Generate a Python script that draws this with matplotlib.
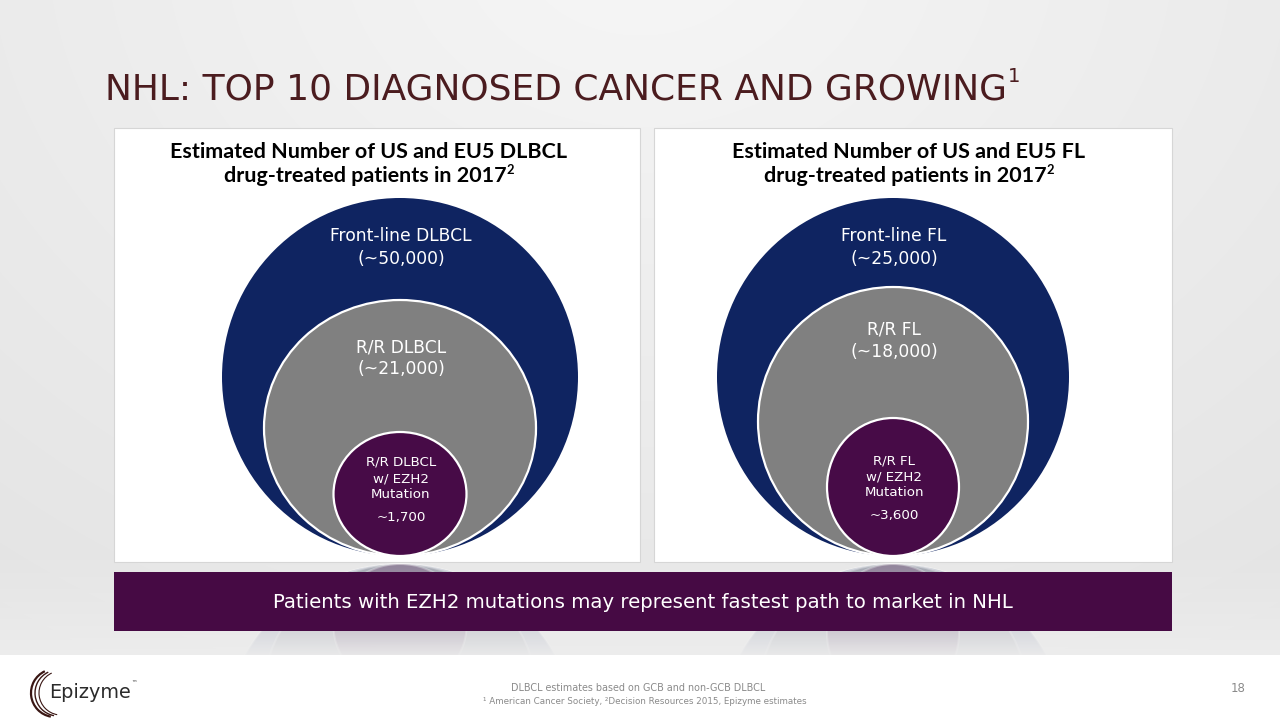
import matplotlib
matplotlib.use("Agg")
import matplotlib.pyplot as plt
from matplotlib.patches import Ellipse, Rectangle, Arc
import numpy as np

# ---------------- data ----------------
title_text = "NHL: TOP 10 DIAGNOSED CANCER AND GROWING"
title_sup = "1"
heading_line1 = ["Estimated Number of US and EU5 DLBCL", "Estimated Number of US and EU5 FL"]
heading_line2 = ["drug-treated patients in 2017", "drug-treated patients in 2017"]
heading_sup = "2"
frontline_labels = ["Front-line DLBCL", "Front-line FL"]
frontline_values = ["(~50,000)", "(~25,000)"]
rr_labels = ["R/R DLBCL", "R/R FL"]
rr_values = ["(~21,000)", "(~18,000)"]
ezh2_labels = [["R/R DLBCL", "w/ EZH2", "Mutation"], ["R/R FL", "w/ EZH2", "Mutation"]]
ezh2_values = ["~1,700", "~3,600"]
banner_text = "Patients with EZH2 mutations may represent fastest path to market in NHL"
footnote_1 = "DLBCL estimates based on GCB and non-GCB DLBCL"
footnote_2 = "\u00b9 American Cancer Society, \u00b2Decision Resources 2015, Epizyme estimates"
page_number = "18"
company = "Epizyme"

# ---------------- layout / style ----------------
W, H = 1280, 720
NAVY = "#0f2461"
GRAY = "#808080"
PURPLE = "#470b47"
BANNER = "#460a44"
TITLE_C = "#4b1c1f"

panels = [
    dict(box=(114, 128, 640, 562), hx=369, cx=400, bottom=556,
         outer=(356, 358), mid=(272, 256), inner=(133, 124),
         ty=[(236, 259), (347, 369), (462, 479, 495, 518)]),
    dict(box=(654, 128, 1172, 562), hx=909, cx=893, bottom=556,
         outer=(352, 358), mid=(270, 269), inner=(132, 138),
         ty=[(236, 259), (330, 352), (461, 477, 493, 516)]),
]

fig = plt.figure(figsize=(12.8, 7.2), dpi=100)
ax = fig.add_axes([0, 0, 1, 1])
ax.set_xlim(0, W)
ax.set_ylim(H, 0)
ax.axis("off")
renderer = fig.canvas.get_renderer()


def fit(t, width):
    bb = t.get_window_extent(renderer)
    t.set_fontsize(t.get_fontsize() * width / bb.width)
    return t


def twidth(t):
    return t.get_window_extent(renderer).width


# background: light grey slide with soft radial highlight, white footer
yy, xx = np.mgrid[0:655, 0:W]
d = np.sqrt(((xx - 640) / 900.0) ** 2 + ((yy + 60) / 700.0) ** 2)
g = np.clip(0.965 - 0.06 * d, 0.88, 0.97)
bg = np.dstack([g, g, g])
ax.imshow(bg, extent=(0, W, 655, 0), zorder=0, aspect="auto", interpolation="bilinear")
ax.add_patch(Rectangle((0, 655), W, H - 655, color="white", zorder=0.5))

# reflections below the panels
for p in panels:
    cx, b = p["cx"], p["bottom"]
    clip = Rectangle((p["box"][0], 562), p["box"][2] - p["box"][0], 93, transform=ax.transData)
    for (w, h), col in [(p["outer"], NAVY), (p["mid"], GRAY), (p["inner"], PURPLE)]:
        e = Ellipse((cx, b + h / 2 + 8), w, h, facecolor=col, edgecolor="white", lw=1.5,
                    alpha=0.3, zorder=1)
        ax.add_patch(e)
        e.set_clip_path(clip)
# fade overlay
fade_h = 100
alpha = 0.15 + 0.8 * np.linspace(0.0, 1.0, fade_h) ** 1.2
ov = np.zeros((fade_h, 2, 4))
ov[..., :3] = 0.93
ov[..., 3] = alpha[:, None]
ax.imshow(ov, extent=(0, W, 655, 560), zorder=1.5, aspect="auto", interpolation="bilinear")

# title
t = ax.text(105, 89, title_text, fontsize=26, color=TITLE_C, ha="left", va="center",
            family="DejaVu Sans", zorder=5)
fit(t, 901)
tw = twidth(t)
ax.text(105 + tw + 1, 77, title_sup, fontsize=t.get_fontsize() * 0.55, color=TITLE_C,
        ha="left", va="center", family="DejaVu Sans", zorder=5)

head_fs = None
for i, p in enumerate(panels):
    x0, y0, x1, y1 = p["box"]
    ax.add_patch(Rectangle((x0, y0), x1 - x0, y1 - y0, facecolor="white",
                           edgecolor="#d6d6d6", lw=0.8, zorder=2))
    # headings
    h1 = ax.text(p["hx"], 152, heading_line1[i], fontsize=14, fontweight="bold", color="black",
                 ha="center", va="center", family="Lato", zorder=5)
    if head_fs is None:
        fit(h1, 399)
        head_fs = h1.get_fontsize()
    else:
        h1.set_fontsize(head_fs)
    h2 = ax.text(0, 176, heading_line2[i], fontsize=head_fs, fontweight="bold", color="black",
                 ha="left", va="center", family="Lato", zorder=5)
    s2 = ax.text(0, 170, heading_sup, fontsize=head_fs * 0.6, fontweight="bold", color="black",
                 ha="left", va="center", family="Lato", zorder=5)
    w2 = twidth(h2) + twidth(s2) - 1
    xs = p["hx"] - w2 / 2
    h2.set_x(xs)
    s2.set_x(xs + twidth(h2) - 1)

    cx, b = p["cx"], p["bottom"]
    ow, oh = p["outer"]
    mw, mh = p["mid"]
    iw, ih = p["inner"]
    ax.add_patch(Ellipse((cx, b - oh / 2), ow, oh, facecolor=NAVY, edgecolor="none", zorder=3))
    ax.add_patch(Ellipse((cx, b - mh / 2), mw, mh, facecolor=GRAY, edgecolor="white", lw=1.6, zorder=3.1))
    ax.add_patch(Ellipse((cx, b - ih / 2), iw, ih, facecolor=PURPLE, edgecolor="white", lw=1.6, zorder=3.2))

    ty = p["ty"]
    big = dict(color="white", ha="center", va="center", family="DejaVu Sans", zorder=6, fontsize=12.3)
    ax.text(cx + 1, ty[0][0], frontline_labels[i], **big)
    ax.text(cx + 1, ty[0][1], frontline_values[i], **big)
    ax.text(cx + 1, ty[1][0], rr_labels[i], **big)
    ax.text(cx + 1, ty[1][1], rr_values[i], **big)
    small = dict(color="white", ha="center", va="center", family="DejaVu Sans", zorder=6, fontsize=9.6)
    for k in range(3):
        ax.text(cx + 1, ty[2][k], ezh2_labels[i][k], **small)
    ax.text(cx + 1, ty[2][3], ezh2_values[i], **small)

# banner
ax.add_patch(Rectangle((114, 572), 1172 - 114, 59, facecolor=BANNER, edgecolor="none", zorder=4))
bt = ax.text(643, 603, banner_text, color="white", ha="center", va="center",
             family="DejaVu Sans", fontsize=14, zorder=6)
fit(bt, 744)

# footer
f1 = ax.text(638, 688, footnote_1, color="#8a8a8a", ha="center", va="center",
             family="DejaVu Sans", fontsize=6.5, zorder=6)
fit(f1, 255)
f2 = ax.text(645, 701, footnote_2, color="#8a8a8a", ha="center", va="center",
             family="DejaVu Sans", fontsize=6.5, zorder=6)
fit(f2, 326)
ax.text(1238, 688, page_number, color="#8a8a8a", ha="center", va="center",
        family="DejaVu Sans", fontsize=8.5, zorder=6)

# logo
lt = ax.text(49, 692, company, color="#2b2b2b", ha="left", va="center",
             family="DejaVu Sans", fontsize=14, zorder=6)
fit(lt, 82)
ax.text(49 + twidth(lt) + 1, 683, "\u2122", color="#2b2b2b", ha="left", va="center",
        family="DejaVu Sans", fontsize=4, zorder=6)
for dx, r, lw in [(0, 24, 1.6), (3, 23, 1.0), (6, 22, 0.8)]:
    ax.add_patch(Arc((55 + dx, 693), 2 * r, 2 * r, theta1=100, theta2=245,
                     color="#3a1714", lw=lw, zorder=6))

fig.savefig("out.png", dpi=100)
